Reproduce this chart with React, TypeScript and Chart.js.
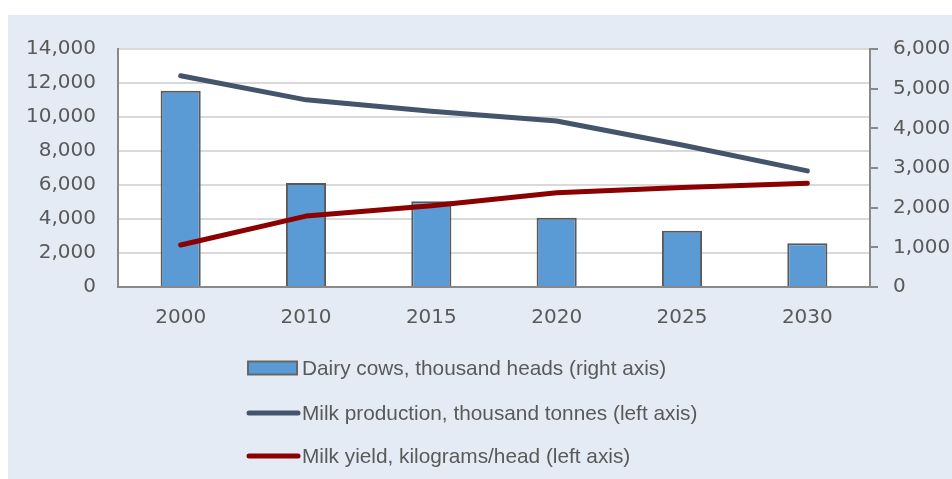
import React, { useEffect, useRef } from "react";
import { Chart, registerables } from "chart.js";

Chart.register(...registerables);

const years = ["2000", "2010", "2015", "2020", "2025", "2030"];
const dairyCows = [4950, 2620, 2160, 1745, 1420, 1105];
const milkProduction = [12430, 11010, 10340, 9760, 8350, 6830];
const milkYield = [2470, 4170, 4780, 5550, 5860, 6110];

const legendLabels = [
  "Dairy cows, thousand heads (right axis)",
  "Milk production, thousand tonnes (left axis)",
  "Milk yield, kilograms/head (left axis)",
];

const BG = "#E5EBF5";
const TEXT = "#595959";
const AXIS = "#898989";
const GRID = "#D9D9D9";
const BAR = "#5B9BD5";
const NAVY = "#44546A";
const RED = "#8B0000";

const bgPlugin = {
  id: "bgPlugin",
  beforeDraw(chart: any) {
    const { ctx, chartArea } = chart;
    ctx.save();
    ctx.fillStyle = BG;
    ctx.fillRect(0, 0, chart.width, chart.height);
    ctx.fillStyle = "#FFFFFF";
    ctx.fillRect(chartArea.left, chartArea.top, chartArea.right - chartArea.left, chartArea.bottom - chartArea.top);
    ctx.restore();
  },
};

const legendPlugin = {
  id: "customLegend",
  afterDraw(chart: any) {
    const ctx = chart.ctx;
    const rows = [353, 398, 441];
    ctx.save();
    ctx.font = '20.8px "Liberation Sans", Arial, sans-serif';
    ctx.textBaseline = "middle";
    ctx.textAlign = "left";
    ctx.fillStyle = BAR;
    ctx.fillRect(240, rows[0] - 6.5, 49, 13);
    ctx.strokeStyle = "#666666";
    ctx.lineWidth = 2;
    ctx.strokeRect(240, rows[0] - 6.5, 49, 13);
    const lineColors = [NAVY, RED];
    for (let i = 0; i < 2; i++) {
      ctx.beginPath();
      ctx.strokeStyle = lineColors[i];
      ctx.lineWidth = 5;
      ctx.lineCap = "round";
      ctx.moveTo(241, rows[i + 1]);
      ctx.lineTo(290, rows[i + 1]);
      ctx.stroke();
    }
    ctx.fillStyle = TEXT;
    legendLabels.forEach((t, i) => {
      ctx.fillText(t, 294, rows[i] + 1);
    });
    ctx.restore();
  },
};

const fmt = (v: any) => Number(v).toLocaleString("en-US");

export default function App() {
  const ref = useRef<HTMLCanvasElement>(null);
  useEffect(() => {
    if (!ref.current) return;
    const chart = new Chart(ref.current, {
      type: "bar",
      data: {
        labels: years,
        datasets: [
          {
            type: "line",
            label: legendLabels[1],
            data: milkProduction,
            yAxisID: "y",
            borderColor: NAVY,
            backgroundColor: NAVY,
            borderWidth: 5,
            borderCapStyle: "round",
            borderJoinStyle: "round",
            pointRadius: 0,
            tension: 0,
            order: 1,
          },
          {
            type: "line",
            label: legendLabels[2],
            data: milkYield,
            yAxisID: "y",
            borderColor: RED,
            backgroundColor: RED,
            borderWidth: 5,
            borderCapStyle: "round",
            borderJoinStyle: "round",
            pointRadius: 0,
            tension: 0,
            order: 2,
          },
          {
            type: "bar",
            label: legendLabels[0],
            data: dairyCows,
            yAxisID: "y1",
            backgroundColor: BAR,
            borderColor: "#595959",
            borderWidth: 2,
            barPercentage: 0.32,
            categoryPercentage: 1,
            order: 3,
          },
        ],
      } as any,
      options: {
        responsive: false,
        animation: false,
        events: [],
        layout: { padding: { top: 30, left: 0, right: 0, bottom: 0 } },
        plugins: {
          legend: { display: false },
          tooltip: { enabled: false },
        },
        scales: {
          x: {
            grid: { display: false, drawTicks: false },
            border: { display: true, color: AXIS, width: 2 },
            ticks: {
              color: TEXT,
              font: { family: '"DejaVu Sans", sans-serif', size: 20 },
              padding: 19,
              maxRotation: 0,
              autoSkip: false,
            },
            afterFit(scale: any) {
              scale.height = 192;
            },
          },
          y: {
            position: "left",
            min: 0,
            max: 14000,
            ticks: {
              stepSize: 2000,
              color: TEXT,
              font: { family: '"DejaVu Sans", sans-serif', size: 20 },
              padding: 22,
              callback: fmt,
            },
            grid: { color: GRID, lineWidth: 2, drawTicks: false },
            border: { display: true, color: AXIS, width: 2 },
            afterFit(scale: any) {
              scale.width = 110;
            },
          },
          y1: {
            position: "right",
            min: 0,
            max: 6000,
            ticks: {
              stepSize: 1000,
              color: TEXT,
              font: { family: '"DejaVu Sans", sans-serif', size: 20 },
              padding: 15,
              callback: fmt,
            },
            grid: { drawOnChartArea: false, drawTicks: true, tickLength: 8, color: AXIS, lineWidth: 2 },
            border: { display: true, color: AXIS, width: 2 },
            afterFit(scale: any) {
              scale.width = 82;
            },
          },
        },
      } as any,
      plugins: [bgPlugin, legendPlugin],
    });
    return () => chart.destroy();
  }, []);

  return (
    <div style={{ position: "absolute", left: 8, top: 15, width: 944, height: 464 }}>
      <canvas ref={ref} width={944} height={464} style={{ display: "block", width: 944, height: 464 }} />
    </div>
  );
}
